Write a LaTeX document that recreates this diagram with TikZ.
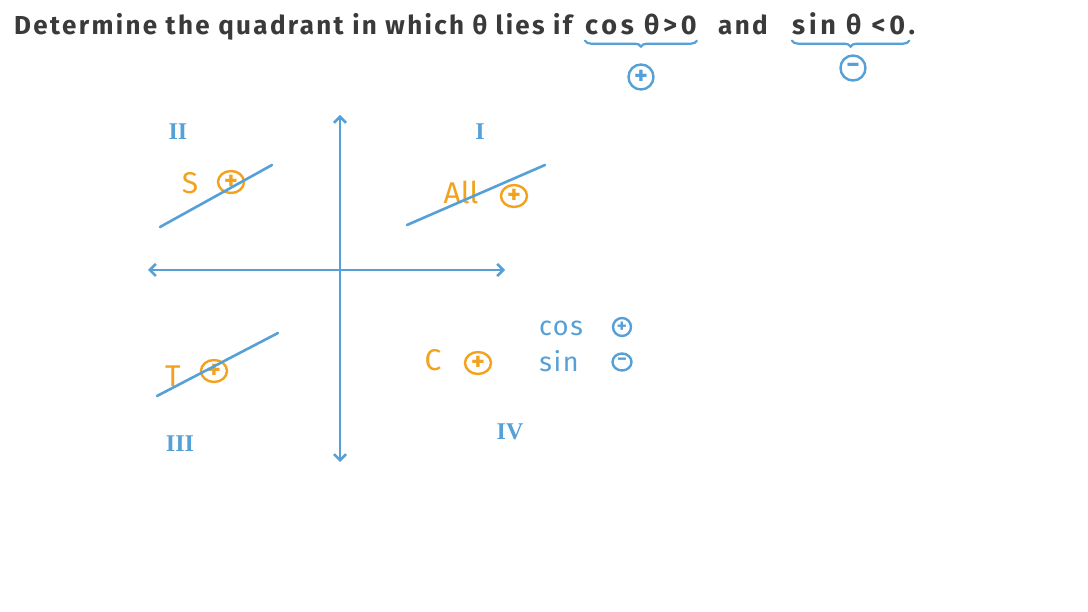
\documentclass[tikz,border=0pt]{standalone}
\usepackage{fontspec}
\setmainfont{Fira Sans}
\newfontfamily\numfont{Liberation Serif}
\usetikzlibrary{arrows.meta,decorations.pathreplacing,shapes.geometric}
\definecolor{penblue}{RGB}{86,160,216}
\definecolor{penorange}{RGB}{242,162,28}
\definecolor{penink}{RGB}{58,58,58}

\begin{document}
\begin{tikzpicture}[x=1pt,y=-1pt,
    title/.style={anchor=base west, inner sep=0pt, text=penink, font=\bfseries\fontsize{26}{26}\selectfont\addfontfeature{LetterSpace=9}},
    widetitle/.style={title, font=\bfseries\fontsize{27}{27}\selectfont\addfontfeature{LetterSpace=14}},
    quadnum/.style={text=penblue, font=\numfont\bfseries\fontsize{24}{24}\selectfont},
    pen/.style={draw=penblue, line width=2.6pt, line cap=round},
    tag/.style={text=penorange, font=\fontsize{30}{30}\selectfont},
    sign/.style={ellipse, draw=penorange, line width=2.4pt, inner sep=0pt, minimum width=26pt, minimum height=22pt, text=penorange, font=\bfseries\fontsize{26}{26}\selectfont},
    bluesign/.style={sign, draw=penblue, text=penblue},
    trig/.style={text=penblue, font=\fontsize{27}{27}\selectfont\addfontfeature{LetterSpace=6}}]
      \useasboundingbox[fill=white] (0,0) rectangle (1088,612);

      % Question
      \node[title] (ask) at (14,35) {Determine the quadrant in which θ lies if};
      \node[widetitle] (cosq) at (585,35) {cos θ>0};
      \node[title] (andw) at (718,35) {and};
      \node[widetitle] (sinq) at (792,35) {sin θ <0.};
      \draw[pen, line width=2.2pt, decorate, decoration={brace, mirror, amplitude=6pt}]
        ([yshift=-5pt]cosq.south west) -- ([yshift=-5pt]cosq.south east);
      \draw[pen, line width=2.2pt, decorate, decoration={brace, mirror, amplitude=6pt}]
        ([yshift=-5pt]sinq.south west) -- ([xshift=-6pt,yshift=-5pt]sinq.south east);
      \node[bluesign, minimum width=25pt, minimum height=25pt] (cospos) at (641,77) {+};
      \node[bluesign, minimum width=25pt, minimum height=25pt] (sinneg) at (853,68) {−};

      % Axes
      \coordinate (top) at (340,115);
      \coordinate (bottom) at (340,462);
      \coordinate (left) at (148,270);
      \coordinate (right) at (505,270);
      \draw[pen, {Straight Barb[length=6pt]}-{Straight Barb[length=6pt]}] (top) -- (bottom);
      \draw[pen, {Straight Barb[length=6pt]}-{Straight Barb[length=6pt]}] (left) -- (right);

      % Quadrant numbers
      \node[quadnum] (qii) at (178,132) {II};
      \node[quadnum] (qi) at (480,132) {I};
      \node[quadnum] (qiii) at (180,444) {III};
      \node[quadnum] (qiv) at (510,432) {IV};

      % Signs per quadrant
      \node[tag] (s) at (190,183) {S};
      \node[sign] (spos) at (231,182) {+};
      \node[tag] (all) at (461,192) {All};
      \node[sign] (allpos) at (514,196) {+};
      \node[tag] (t) at (173,376) {T};
      \node[sign] (tpos) at (214,371) {+};
      \node[tag] (c) at (433,360) {C};
      \node[sign] (cpos) at (478,363) {+};

      % Strokes
      \coordinate (s1) at (160,227);
      \coordinate (s2) at (272,165);
      \coordinate (a1) at (407,225);
      \coordinate (a2) at (545,165);
      \coordinate (t1) at (157,396);
      \coordinate (t2) at (278,333);
      \draw[pen] (s1) -- (s2);
      \draw[pen] (a1) -- (a2);
      \draw[pen] (t1) -- (t2);

      % Quadrant IV
      \node[trig] (cosiv) at (561,328) {cos};
      \node[bluesign, minimum width=18pt, minimum height=18pt, font=\bfseries\fontsize{19}{19}\selectfont] (cosivs) at (622,327) {+};
      \node[trig] (siniv) at (559,361) {sin};
      \node[bluesign, minimum width=19pt, minimum height=17pt, font=\bfseries\fontsize{19}{19}\selectfont] (sinivs) at (622,362) {−};
    \end{tikzpicture}
\end{document}
